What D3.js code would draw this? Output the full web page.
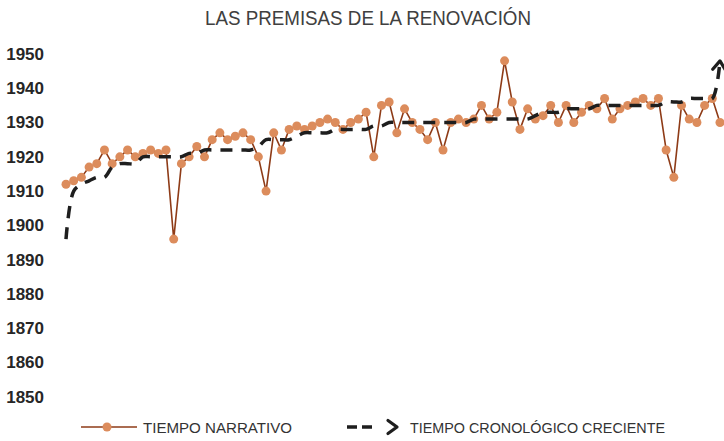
<!DOCTYPE html>
<html>
<head>
<meta charset="utf-8">
<script src="https://cdn.jsdelivr.net/npm/d3@7"></script>
<style>
  body { margin: 0; background: #fff; }
  svg { display: block; font-family: "Liberation Sans", Arial, sans-serif; }
</style>
</head>
<body>
<svg id="chart"></svg>
<script>
// Chart data
const chapters = d3.range(1, 87);

const narrativeYears = [
  1912, 1913, 1914, 1917, 1918, 1922, 1918, 1920, 1922, 1920,
  1921, 1922, 1921, 1922, 1896, 1918, 1920, 1923, 1920, 1925,
  1927, 1925, 1926, 1927, 1925, 1920, 1910, 1927, 1922, 1928,
  1929, 1928, 1929, 1930, 1931, 1930, 1928, 1930, 1931, 1933,
  1920, 1935, 1936, 1927, 1934, 1930, 1928, 1925, 1930, 1922,
  1930, 1931, 1930, 1931, 1935, 1931, 1933, 1948, 1936, 1928,
  1934, 1931, 1932, 1935, 1930, 1935, 1930, 1933, 1935, 1934,
  1937, 1931, 1934, 1935, 1936, 1937, 1935, 1937, 1922, 1914,
  1935, 1931, 1930, 1935, 1937, 1930
];

const chronoYears = [
  1896, 1910, 1912, 1913, 1914, 1914, 1917, 1918, 1918, 1918,
  1920, 1920, 1920, 1920, 1920, 1920, 1921, 1921, 1922, 1922,
  1922, 1922, 1922, 1922, 1922, 1923, 1925, 1925, 1925, 1925,
  1926, 1927, 1927, 1927, 1927, 1928, 1928, 1928, 1928, 1928,
  1929, 1929, 1930, 1930, 1930, 1930, 1930, 1930, 1930, 1930,
  1930, 1930, 1930, 1931, 1931, 1931, 1931, 1931, 1931, 1931,
  1931, 1932, 1933, 1933, 1933, 1934, 1934, 1934, 1934, 1935,
  1935, 1935, 1935, 1935, 1935, 1935, 1935, 1935, 1936, 1936,
  1936, 1937, 1937, 1937, 1937, 1948
];

const yTicks = [1850, 1860, 1870, 1880, 1890, 1900, 1910, 1920, 1930, 1940, 1950];

const title = "LAS PREMISAS DE LA RENOVACIÓN";
const seriesNames = ["TIEMPO NARRATIVO", "TIEMPO CRONOLÓGICO CRECIENTE"];

// SVG setup
const width = 724;
const height = 441;
const svg = d3.select("#chart").attr("width", width).attr("height", height);

const lineColor = "#8e3b17";
const dotColor = "#dc8c5c";
const dashColor = "#1e1e1e";

// arrow head for the chronological line
const defs = svg.append("defs");
defs.append("marker")
  .attr("id", "arrow")
  .attr("markerUnits", "userSpaceOnUse")
  .attr("viewBox", "-12 -8 14 16")
  .attr("markerWidth", 14)
  .attr("markerHeight", 16)
  .attr("refX", 0)
  .attr("refY", 0)
  .attr("orient", "auto")
  .append("path")
  .attr("d", "M-9,-6.5 L0,0 L-9,6.5")
  .attr("fill", "none")
  .attr("stroke", dashColor)
  .attr("stroke-width", 3.2)
  .attr("stroke-linecap", "round")
  .attr("stroke-linejoin", "round");

// Scales
const x = d3.scalePoint()
  .domain(chapters)
  .range([66, 720]);

const y = d3.scaleLinear()
  .domain([1850, 1950])
  .range([396.7, 54]);

// Title
svg.append("text")
  .attr("x", 368)
  .attr("y", 25)
  .attr("text-anchor", "middle")
  .attr("font-size", 20)
  .attr("fill", "#404040")
  .attr("textLength", 326)
  .attr("lengthAdjust", "spacingAndGlyphs")
  .text(title);

// Y axis labels only (no line, no grid)
const yAxis = d3.axisLeft(y).tickValues(yTicks).tickSize(0).tickPadding(0).tickFormat(d3.format("d"));
const yg = svg.append("g")
  .attr("transform", "translate(44,0)")
  .call(yAxis);
yg.select(".domain").remove();
yg.selectAll("text")
  .attr("font-size", 17)
  .attr("font-weight", "bold")
  .attr("font-family", "'Liberation Sans', Arial, sans-serif")
  .attr("fill", "#262626");

// Narrative series
const narrative = chapters.map((c, i) => ({ c, v: narrativeYears[i] }));
const chrono = chapters.map((c, i) => ({ c, v: chronoYears[i] }));

svg.append("path")
  .datum(narrative)
  .attr("fill", "none")
  .attr("stroke", lineColor)
  .attr("stroke-width", 1.6)
  .attr("stroke-linejoin", "round")
  .attr("d", d3.line().x(d => x(d.c)).y(d => y(d.v)));

svg.selectAll("circle.dot")
  .data(narrative)
  .enter()
  .append("circle")
  .attr("class", "dot")
  .attr("cx", d => x(d.c))
  .attr("cy", d => y(d.v))
  .attr("r", 4.5)
  .attr("fill", dotColor);

// Chronological (sorted) series, smoothed, dashed, with arrow
svg.append("path")
  .datum(chrono)
  .attr("fill", "none")
  .attr("stroke", dashColor)
  .attr("stroke-width", 3.5)
  .attr("stroke-dasharray", "12,9")
  .attr("marker-end", "url(#arrow)")
  .attr("d", d3.line().curve(d3.curveCatmullRom.alpha(0.5)).x(d => x(d.c)).y(d => y(d.v)));

// Legend
const legendY = 427;
const lg = svg.append("g");

lg.append("line")
  .attr("x1", 81).attr("x2", 137)
  .attr("y1", legendY).attr("y2", legendY)
  .attr("stroke", lineColor)
  .attr("stroke-width", 1.6);
lg.append("circle")
  .attr("cx", 107).attr("cy", legendY)
  .attr("r", 4.5)
  .attr("fill", dotColor);
lg.append("text")
  .attr("x", 143).attr("y", legendY + 5.5)
  .attr("font-size", 15)
  .attr("fill", "#333")
  .attr("textLength", 149)
  .attr("lengthAdjust", "spacingAndGlyphs")
  .text(seriesNames[0]);

// dashed sample: two dashes then the chevron
lg.append("line")
  .attr("x1", 347).attr("x2", 374)
  .attr("y1", legendY).attr("y2", legendY)
  .attr("stroke", dashColor)
  .attr("stroke-width", 3.5)
  .attr("stroke-dasharray", "10,5");
lg.append("path")
  .attr("d", `M388,${legendY - 6.5} L397,${legendY} L388,${legendY + 6.5}`)
  .attr("fill", "none")
  .attr("stroke", dashColor)
  .attr("stroke-width", 3.2)
  .attr("stroke-linecap", "round")
  .attr("stroke-linejoin", "round");
lg.append("text")
  .attr("x", 410).attr("y", legendY + 5.5)
  .attr("font-size", 15)
  .attr("fill", "#333")
  .attr("textLength", 255)
  .attr("lengthAdjust", "spacingAndGlyphs")
  .text(seriesNames[1]);
</script>
</body>
</html>
